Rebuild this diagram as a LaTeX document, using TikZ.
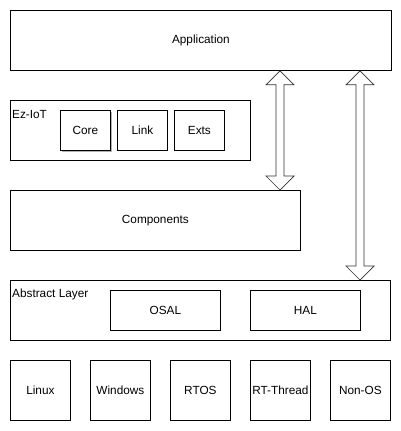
\documentclass[tikz,border=0pt]{standalone}
\usepackage{fontspec}
\setmainfont{Liberation Sans}
\usetikzlibrary{calc}
\begin{document}
\begin{tikzpicture}[x=1pt,y=-1pt,
  every node/.style={font=\fontsize{11.8}{14}\selectfont},
  box/.style={draw=black,line width=0.8pt,fill=white,inner sep=0pt,anchor=north west},
  lbl/.style={anchor=west,inner sep=0pt},
  blockarrow/.style={draw=black!80,line width=0.7pt,fill=white,line join=miter}]
\useasboundingbox (0,0) rectangle (401,431);
% layers
\node[box,minimum width=381pt,minimum height=60pt] (app) at (10,10) {Application};
\node[box,minimum width=240pt,minimum height=60pt] (ez) at (10,100) {};
\node[lbl] (ezl) at (12,114) {Ez-IoT};
\fill[black!30] (62,112) rectangle (112,152);
\node[box,minimum width=50pt,minimum height=40pt] (core) at (60,110) {Core};
\node[box,minimum width=50pt,minimum height=40pt] (link) at (117,110) {Link};
\node[box,minimum width=50pt,minimum height=40pt] (exts) at (174,110) {Exts};
\node[box,minimum width=290pt,minimum height=60pt] (comp) at (10,190) {Components};
\node[box,minimum width=380pt,minimum height=60pt] (abs) at (10,280) {};
\node[lbl] (absl) at (12,294) {Abstract Layer};
\node[box,minimum width=110pt,minimum height=40pt] (osal) at (110,290) {OSAL};
\node[box,minimum width=110pt,minimum height=40pt] (hal) at (250,290) {HAL};
\node[box,minimum width=60pt,minimum height=60pt] (linux) at (10,360) {Linux};
\node[box,minimum width=60pt,minimum height=60pt] (win) at (90,360) {Windows};
\node[box,minimum width=60pt,minimum height=60pt] (rtos) at (170,360) {RTOS};
\node[box,minimum width=60pt,minimum height=60pt] (rtt) at (250,360) {RT-Thread};
\node[box,minimum width=60pt,minimum height=60pt] (nonos) at (330,360) {Non-OS};
% arrows
\coordinate (xa) at (280,0);
\coordinate (xb) at (360,0);
\coordinate (a1t) at (app.south -| xa);
\coordinate (a1b) at (comp.north -| xa);
\coordinate (a2t) at (app.south -| xb);
\coordinate (a2b) at (abs.north -| xb);
\draw[blockarrow] (a1t) -- ++(14,14) -- ++(-10,0) -- ($(a1b)+(4,-14)$) -- ++(10,0) -- (a1b)
  -- ++(-14,-14) -- ++(10,0) -- ($(a1t)+(-4,14)$) -- ++(-10,0) -- cycle;
\draw[blockarrow] (a2t) -- ++(14,14) -- ++(-10,0) -- ($(a2b)+(4,-14)$) -- ++(10,0) -- (a2b)
  -- ++(-14,-14) -- ++(10,0) -- ($(a2t)+(-4,14)$) -- ++(-10,0) -- cycle;
\end{tikzpicture}
\end{document}
